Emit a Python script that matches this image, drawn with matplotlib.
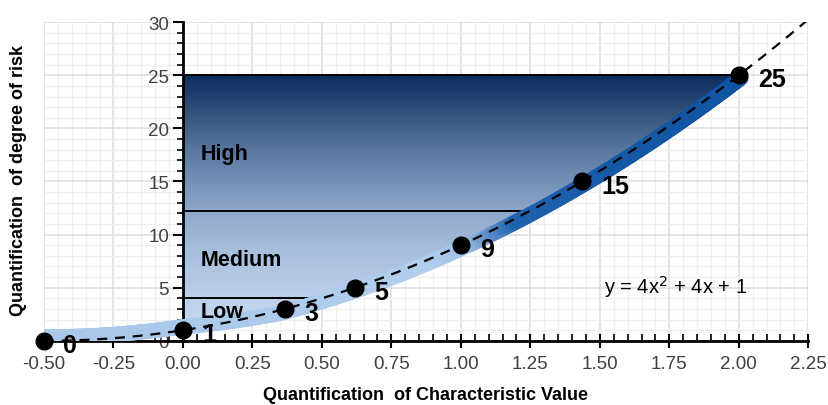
import numpy as np
import matplotlib
matplotlib.use("Agg")
import matplotlib.pyplot as plt
from matplotlib.colors import LinearSegmentedColormap
from matplotlib.collections import LineCollection
from matplotlib.patches import Polygon
from matplotlib.ticker import MultipleLocator, FormatStrFormatter

plt.rcParams['font.family'] = ['Liberation Sans', 'DejaVu Sans']

# Data
point_x = [-0.5, 0.0, 0.366, 0.618, 1.0, 1.436, 2.0]
point_y = [0, 1, 3, 5, 9, 15, 25]
point_labels = ["0", "1", "3", "5", "9", "15", "25"]
coef = [4, 4, 1]  # y = 4x^2 + 4x + 1
levels = [4, 12.2, 25]
zone_names = ["Low", "Medium", "High"]
zone_label_y = [2.8, 7.7, 17.6]

def f(x):
    x = np.asarray(x)
    return coef[0] * x**2 + coef[1] * x + coef[2]

def finv(y):
    return (np.sqrt(y) - 1) / 2

fig = plt.figure(figsize=(8.29, 4.06), dpi=100)
ax = fig.add_axes([0.053, 0.158, 0.922, 0.785])
ax.set_xlim(-0.5, 2.25)
ax.set_ylim(0, 30)

# grid
ax.xaxis.set_major_locator(MultipleLocator(0.25))
ax.xaxis.set_minor_locator(MultipleLocator(0.05))
ax.yaxis.set_major_locator(MultipleLocator(5))
ax.yaxis.set_minor_locator(MultipleLocator(1))
ax.grid(which='minor', color='#efefef', lw=0.9, zorder=0)
ax.grid(which='major', color='#dcdcdc', lw=1.1, zorder=0)
ax.set_axisbelow(True)

# gradient fill region
cmap_fill = LinearSegmentedColormap.from_list('fill', [
    (0.0, '#c9dcf1'), (0.15, '#bcd1ec'), (0.35, '#a6bddb'),
    (0.5, '#8da6c8'), (0.7, '#5d7ba5'), (0.85, '#35557f'), (1.0, '#0c2e5f')])
grad = np.linspace(0, 1, 256).reshape(-1, 1)
im = ax.imshow(grad, extent=[0, 2.0, 0, 25], origin='lower', aspect='auto',
               cmap=cmap_fill, zorder=1)
ys = np.linspace(25, 1, 200)
poly_pts = [(0, 0), (0, 25)] + [(finv(y), y) for y in ys] + [(0, 1)]
poly = Polygon(poly_pts, closed=True, transform=ax.transData, facecolor='none', edgecolor='none')
ax.add_patch(poly)
im.set_clip_path(poly)

# horizontal level lines
for lv in levels:
    ax.plot([0, finv(lv)], [lv, lv], color='black', lw=1.4, zorder=3)

# thick gradient band along the curve (drawn in display space, slightly offset)
bx = np.linspace(-0.5, 2.0, 400)
by = f(bx)
disp = ax.transData.transform(np.column_stack([bx, by]))
d = np.gradient(disp, axis=0)
d /= np.linalg.norm(d, axis=1)[:, None]
normal = np.column_stack([d[:, 1], -d[:, 0]])  # points to lower-right of the curve
shift = np.interp(bx, [-0.5, 0.0, 0.35, 2.0], [-4.0, -3.5, 3.0, 3.5])
disp_off = disp + normal * shift[:, None]
data_off = ax.transData.inverted().transform(disp_off)
pts = data_off.reshape(-1, 1, 2)
segs = np.concatenate([pts[:-1], pts[1:]], axis=1)
cmap_band = LinearSegmentedColormap.from_list('band', [
    (0.0, '#a9c8ea'), (0.3, '#b2cfee'), (0.37, '#9fc0e6'),
    (0.46, '#1e62b0'), (0.7, '#1458a6'), (1.0, '#0f55a3')])
lc = LineCollection(segs, cmap=cmap_band, linewidths=11, capstyle='round',
                    joinstyle='round', zorder=4)
lc.set_array(by[:-1] / 25.0)
lc.set_clim(0, 1)
ax.add_collection(lc)

# dashed curve
cx = np.linspace(-0.5, 2.25, 300)
ax.plot(cx, f(cx), color='black', lw=1.6, ls=(0, (4.5, 3.5)), zorder=5)

# points
ax.plot(point_x, point_y, 'o', color='black', ms=12, zorder=6, clip_on=False)
for x, y, lab in zip(point_x, point_y, point_labels):
    ax.annotate(lab, (x, y), xytext=(14, -3), textcoords='offset points',
                fontsize=18, fontweight='bold', ha='left', va='center',
                zorder=7, annotation_clip=False)

# zone labels
for name, yy in zip(zone_names, zone_label_y):
    ax.text(0.065, yy, name, fontsize=15.5, fontweight='bold', ha='left',
            va='center', zorder=7)

ax.text(1.515, 5.2, r'y = 4x$^2$ + 4x + 1', fontsize=14.5, ha='left', va='center', zorder=7)

# spines
for s in ['top', 'right']:
    ax.spines[s].set_visible(False)
ax.spines['left'].set_position(('data', 0))
ax.spines['bottom'].set_position(('data', 0))
ax.spines['left'].set_linewidth(2)
ax.spines['bottom'].set_linewidth(2)
ax.spines['left'].set_zorder(3)
ax.spines['bottom'].set_zorder(3)

ax.xaxis.set_major_formatter(FormatStrFormatter('%.2f'))
ax.tick_params(axis='x', which='major', direction='inout', length=10, width=1.5,
               labelsize=13.5, labelcolor='#404040', pad=5)
ax.tick_params(axis='x', which='minor', direction='in', length=5, width=1.2)
ax.tick_params(axis='y', which='major', direction='out', length=7, width=1.5,
               labelsize=13.5, labelcolor='#404040', pad=3)
ax.tick_params(axis='y', which='minor', direction='out', length=4, width=1.2)

fig.text(0.513, 0.025, 'Quantification  of Characteristic Value', fontsize=13,
         fontweight='bold', ha='center', va='center')
fig.text(0.022, 0.555, 'Quantification  of degree of risk', fontsize=13,
         fontweight='bold', ha='center', va='center', rotation=90)

fig.savefig('out.png', dpi=100)
